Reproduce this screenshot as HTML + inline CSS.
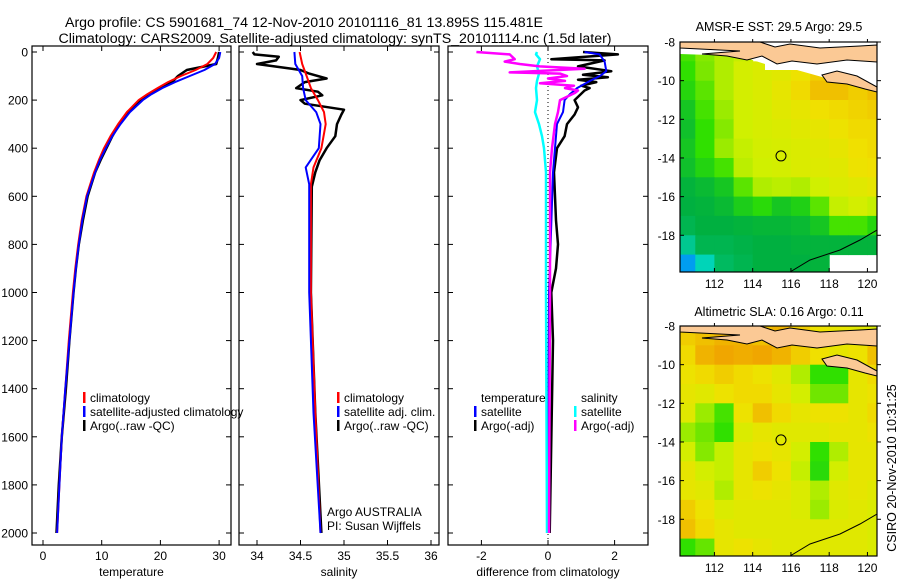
<!DOCTYPE html>
<html><head><meta charset="utf-8"><style>
body{margin:0;background:#fff;}
svg{display:block;font-family:"Liberation Sans",sans-serif;}
text{fill:#000;}
</style></head><body>
<svg id="fig" width="900" height="580" viewBox="0 0 900 580" xmlns="http://www.w3.org/2000/svg">
<text x="304" y="27" font-size="14.2" text-anchor="middle">Argo profile: CS 5901681_74 12-Nov-2010 20101116_81 13.895S 115.481E</text>
<text x="335" y="43" font-size="14.2" text-anchor="middle">Climatology: CARS2009. Satellite-adjusted climatology: synTS_20101114.nc (1.5d later)</text>
<text x="779" y="31" font-size="12.5" text-anchor="middle">AMSR-E SST: 29.5 Argo: 29.5</text>
<text x="779" y="316" font-size="12.5" text-anchor="middle">Altimetric SLA: 0.16 Argo: 0.11</text>
<text x="0" y="0" font-size="12.5" text-anchor="middle" transform="translate(896,468) rotate(-90)">CSIRO 20-Nov-2010 10:31:25</text>
</svg>
<script>
// ---------- profile data ----------
const tDepth = [0,25,50,75,100,125,150,175,200,250,300,350,400,450,500,600,700,800,900,1000,1200,1400,1600,1800,2000];
const tClim  = [29.5,29,28,26,23.5,21.3,19.5,17.8,16.3,14.3,12.8,11.5,10.4,9.5,8.7,7.4,6.6,6.0,5.5,5.1,4.4,3.8,3.2,2.8,2.4];
const tSat   = [30.2,30,29.3,27.5,25,22.5,20.3,18.5,17,14.8,13.2,11.8,10.7,9.7,8.9,7.5,6.7,6.1,5.6,5.2,4.5,3.8,3.2,2.8,2.4];
const tArgo  = [30,29.8,29.5,24.5,23,22,20,18.2,16.6,14.6,13,11.8,10.8,9.8,8.9,7.6,6.8,6.1,5.6,5.2,4.5,3.9,3.2,2.7,2.3];

const sDepth = [0,50,100,150,200,250,300,400,480,550,1000,1500,2000];
const sClim  = [34.49,34.52,34.57,34.62,34.7,34.77,34.79,34.74,34.65,34.62,34.62,34.67,34.73];
const sSat   = [34.43,34.44,34.52,34.53,34.56,34.68,34.73,34.71,34.56,34.6,34.6,34.65,34.73];
const aDepth = [0,10,20,35,50,70,75,90,110,125,150,165,180,200,215,240,260,300,350,400,450,500,560,1000,1500,2000];
const sArgo  = [33.95,33.97,34.25,34.22,34.0,34.4,34.5,34.6,34.8,34.55,34.45,34.7,34.75,34.5,34.55,35.0,34.97,34.92,34.9,34.8,34.72,34.67,34.63,34.62,34.67,34.74];

const dDepthT = [0,10,30,35,60,80,95,105,115,125,140,150,160,200,230,260,300,350,400,500,700,800,900,1000,1200,2000];
const dTArgo  = [1.05,2.1,0.1,1.7,0.9,1.9,1.05,1.8,0.9,1.45,1.0,1.25,1.1,0.8,0.9,0.8,0.57,0.5,0.27,0.18,0.24,0.3,0.24,0.1,0.15,0.05];
const dDepthS = [0,10,40,80,100,120,150,175,200,250,300,400,500,1000,2000];
const dTSat   = [1.1,1.55,1.7,1.75,1.56,1.26,0.87,0.66,0.5,0.45,0.27,0.21,0.15,0.03,0.0];
const dDepthC = [0,10,30,60,90,120,150,200,250,300,350,400,500,1000,2000];
const dSSat   = [-0.33,-0.36,-0.24,-0.33,-0.27,-0.33,-0.36,-0.33,-0.39,-0.27,-0.18,-0.12,-0.06,-0.06,-0.03];
const dDepthM = [0,10,30,40,50,60,70,85,90,100,110,120,130,140,150,160,170,200,250,300,400,500,1000,2000];
const dSArgo  = [-2.15,-1.15,-1.0,-1.3,-0.85,-0.25,1.1,-1.15,0.36,0.57,0.0,0.51,-0.24,0.78,0.51,0.9,0.81,0.36,0.3,0.21,0.12,0.06,0.06,0.03];

const depthTicks = [0,200,400,600,800,1000,1200,1400,1600,1800,2000];
const tTicks = [0,10,20,30];
const sTicks = [34,34.5,35,35.5,36];
const dTicks = [-2,0,2];
const latTicks = [-8,-10,-12,-14,-16,-18];
const lonTicks = [112,114,116,118,120];

// ---------- map data (1-degree cells, lat -8..-20 rows, lon 110..121 cols) ----------
const mapLon0 = 110, mapLat0 = -8;
const sstGrid = [
[.62,.68,.72,.74,null,null,null,null,null,null,null],
[.6,.67,.72,.76,.78,.8,.84,.88,.9,null,null],
[.57,.64,.72,.76,.78,.82,.86,.9,.9,.88,.9],
[.52,.62,.7,.75,.77,.8,.82,.85,.86,.87,.88],
[.5,.6,.68,.75,.77,.78,.8,.82,.84,.86,.86],
[.52,.6,.7,.74,.76,.77,.78,.8,.82,.85,.86],
[.5,.56,.62,.73,.75,.76,.78,.79,.8,.84,.85],
[.46,.48,.52,.64,.72,.73,.72,.75,.78,.8,.82],
[.45,.46,.48,.54,.58,.52,.55,.64,.74,.76,.74],
[.43,.45,.45,.46,.47,.47,.48,.52,.62,.62,.57],
[.35,.43,.43,.44,.45,.45,.46,.46,.46,.46,.46],
[.12,.3,.41,.43,.45,.45,.45,.46,null,null,null]];
const slaGrid = [
[.88,.9,.92,.92,.9,.92,.88,.84,.82,.8,.78],
[.86,.92,.94,.93,.94,.92,.88,.85,.82,.84,.9],
[.84,.86,.88,.86,.84,.8,.72,.6,.6,.82,.86],
[.82,.8,.84,.86,.86,.82,.76,.66,.66,.82,.84],
[.8,.7,.62,.84,.9,.86,.82,.84,.84,.82,.86],
[.7,.66,.6,.78,.82,.8,.8,.8,.82,.82,.84],
[.76,.68,.74,.82,.84,.82,.76,.6,.72,.82,.82],
[.82,.76,.74,.82,.88,.84,.74,.58,.76,.82,.82],
[.82,.8,.72,.82,.84,.82,.78,.72,.8,.82,.8],
[.88,.84,.78,.8,.8,.8,.78,.7,.78,.8,.78],
[.9,.86,.82,.8,.8,.8,.8,.8,.8,.8,.78],
[.6,.65,.82,.84,.82,.8,.8,.8,.8,.8,.78]];
const argoLon = 115.481, argoLat = -13.895;

const NS = "http://www.w3.org/2000/svg";
const svg = document.getElementById('fig');
function mk(tag, attrs, parent){ const e=document.createElementNS(NS,tag); for(const k in attrs) e.setAttribute(k,attrs[k]); (parent||svg).appendChild(e); return e; }

const Y0 = 52, PXD = 0.2405;
const yD = d => Y0 + d*PXD;
const panels = [
  {x0:32,x1:231,xs:v=>43+v*5.87,ticks:tTicks,lab:'temperature',name:'temperature'},
  {x0:239,x1:439,xs:v=>257+(v-34)*87,ticks:sTicks,lab:'salinity',name:'salinity'},
  {x0:448,x1:648,xs:v=>548+v*33.3,ticks:dTicks,lab:'difference from climatology',name:'difference'}];
const TOP=46, BOT=545;

panels.forEach((p,i)=>{
  const g = mk('g',{});
  
  
  const cp = mk('clipPath',{id:'cp'+i},g); mk('rect',{x:p.x0,y:TOP,width:p.x1-p.x0,height:BOT-TOP},cp);
  p.g=g;
  const fr = mk('rect',{x:p.x0,y:TOP,width:p.x1-p.x0,height:BOT-TOP,fill:'none',stroke:'#000','stroke-width':1.2},g);
  
  
  depthTicks.forEach(d=>{
    mk('line',{x1:p.x0,x2:p.x0+5,y1:yD(d),y2:yD(d),stroke:'#000'},g);
    mk('line',{x1:p.x1,x2:p.x1-5,y1:yD(d),y2:yD(d),stroke:'#000'},g);
    if(i===0){ const t=mk('text',{x:p.x0-4,y:yD(d)+4.5,'font-size':12,'text-anchor':'end'},g); t.textContent=d;
        }
  });
  p.ticks.forEach(v=>{
    const x=p.xs(v);
    mk('line',{x1:x,x2:x,y1:BOT,y2:BOT-5,stroke:'#000'},g);
    mk('line',{x1:x,x2:x,y1:TOP,y2:TOP+5,stroke:'#000'},g);
    const t=mk('text',{x:x,y:BOT+15,'font-size':12,'text-anchor':'middle'},g); t.textContent=v;
     
  });
  const xl=mk('text',{x:(p.x0+p.x1)/2,y:576,'font-size':12,'text-anchor':'middle'},g); xl.textContent=p.lab;
   
});

function line(pi, depths, vals, color, w, name){
  const p=panels[pi];
  const pts=depths.map((d,k)=>p.xs(vals[k]).toFixed(1)+','+yD(d).toFixed(1)).join(' ');
  const e=mk('polyline',{points:pts,fill:'none',stroke:color,'stroke-width':w,'clip-path':'url(#cp'+pi+')','stroke-linejoin':'round'},p.g);
  
  
}
const zl = mk('line',{x1:panels[2].xs(0),x2:panels[2].xs(0),y1:TOP,y2:BOT,stroke:'#000','stroke-dasharray':'1,3'},panels[2].g);
 

line(0,tDepth,tArgo,'#000',2.5,'temperature-argo-line');
line(0,tDepth,tClim,'#f00',2,'temperature-climatology-line');
line(0,tDepth,tSat,'#00f',2,'temperature-satellite-line');
line(1,aDepth,sArgo,'#000',2.5,'salinity-argo-line');
line(1,sDepth,sClim,'#f00',2,'salinity-climatology-line');
line(1,sDepth,sSat,'#00f',2,'salinity-satellite-line');
line(2,dDepthT,dTArgo,'#000',2.5,'temp-diff-argo-line');
line(2,dDepthS,dTSat,'#00f',2,'temp-diff-satellite-line');
line(2,dDepthC,dSSat,'#0ff',2.5,'sal-diff-satellite-line');
line(2,dDepthM,dSArgo,'#f0f',2.5,'sal-diff-argo-line');

function legend(x,y,color,label,name){
  const g=mk('g',{});
  
  
  if(color) mk('rect',{x:x,y:y-10,width:2.5,height:11,fill:color},g);
  const t=mk('text',{x:x+7,y:y,'font-size':12},g); t.textContent=label;
}
legend(83,402,'#f00','climatology','legend-temp-climatology');
legend(83,416,'#00f','satellite-adjusted climatology','legend-temp-satellite');
legend(83,430,'#000','Argo(..raw -QC)','legend-temp-argo');
legend(337,402,'#f00','climatology','legend-sal-climatology');
legend(337,416,'#00f','satellite adj. clim.','legend-sal-satellite');
legend(337,430,'#000','Argo(..raw -QC)','legend-sal-argo');
legend(474,402,null,'temperature','legend-temp-header');
legend(474,416,'#00f','satellite','legend-diff-temp-satellite');
legend(474,430,'#000','Argo(-adj)','legend-diff-temp-argo');
legend(574,402,null,'salinity','legend-sal-header');
legend(574,416,'#0ff','satellite','legend-diff-sal-satellite');
legend(574,430,'#f0f','Argo(-adj)','legend-diff-sal-argo');
legend(320,516,null,'Argo AUSTRALIA','argo-australia-label');
legend(320,530,null,'PI: Susan Wijffels','pi-label');

// ---------- maps ----------
const stops=[[0,[0,96,255]],[.25,[0,224,224]],[.45,[0,176,64]],[.6,[48,224,0]],[.75,[208,240,0]],[.85,[240,224,0]],[.95,[240,160,0]],[1,[220,120,0]]];
function cmap(v){ for(let i=1;i<stops.length;i++){ if(v<=stops[i][0]){ const a=stops[i-1],b=stops[i],t=(v-a[0])/(b[0]-a[0]);
  return 'rgb('+a[1].map((c,k)=>Math.round(c+(b[1][k]-c)*t)).join(',')+')'; } } return 'rgb(220,120,0)'; }

function drawMap(idx, grid, top, name, whiteBand){
  const L=680,R=877,H=230, lonMin=110.2, lonMax=120.5, latBot=-19.9;
  const xs=lon=>L+(lon-lonMin)/(lonMax-lonMin)*(R-L);
  const ys=lat=>top+(mapLat0-lat)/(mapLat0-latBot)*H;
  const g=mk('g',{});
  
  
  const cp=mk('clipPath',{id:'mcp'+idx},g); mk('rect',{x:L,y:top,width:R-L,height:H},cp);
  const cg=mk('g',{'clip-path':'url(#mcp'+idx+')'},g);
  grid.forEach((row,r)=>row.forEach((v,c)=>{
    if(v===null) return;
    const x=xs(mapLon0+c), y=ys(mapLat0-r);
    const cell=mk('rect',{x:x.toFixed(1),y:y.toFixed(1),width:(xs(mapLon0+c+1)-x+0.5).toFixed(1),height:(ys(mapLat0-r-1)-y+0.5).toFixed(1),fill:cmap(v)},cg);
    
    
  }));
  if(whiteBand){
    const wb=mk('path',{d:`M${L},${top} L${R},${top} L${R},${top+45} L${R-30},${top+40} L${R-55},${top+35} L${R-80},${top+28} L${L+85},${top+28} L${L+85},${top+22} L${L+60},${top+14} L${L},${top+12} Z`,fill:'#fff'},cg);
     
  }
  const land = mk('g',{fill:'#fbc995',stroke:'#000','stroke-width':1},cg);
  
  
  mk('path',{d:`M${L},${top} L${L+80},${top} L${L+95},${top+5} L${L+110},${top+2} L${L+140},${top+6} L${L+180},${top+4} L${R},${top+3} L${R},${top+20} L${R-30},${top+18} L${R-60},${top+22} L${R-85},${top+19} L${R-100},${top+22} L${R-115},${top+14} L${R-130},${top+18} L${R-150},${top+14} L${R-175},${top+12} L${L+60},${top+9} L${L},${top+6} Z`},land);
  mk('path',{d:`M${R-55},${top+33} L${R-40},${top+29} L${R-20},${top+34} L${R},${top+45} L${R},${top+50} L${R-12},${top+47} L${R-30},${top+42} L${R-50},${top+40} Z`},land);
  mk('polyline',{points:`${L+110},${top+H} ${L+130},${top+H-12} ${L+160},${top+H-22} ${L+180},${top+H-32} ${R},${top+H-42}`,fill:'none',stroke:'#000','stroke-width':1},cg);
  const circ=mk('circle',{cx:xs(argoLon),cy:ys(argoLat),r:5,fill:'none',stroke:'#000','stroke-width':1},cg);
  
  
  mk('rect',{x:L,y:top,width:R-L,height:H,fill:'none',stroke:'#000','stroke-width':1.2},g);
  latTicks.forEach(v=>{ const y=ys(v);
    mk('line',{x1:L,x2:L+4,y1:y,y2:y,stroke:'#000'},g); mk('line',{x1:R,x2:R+4,y1:y,y2:y,stroke:'#000'},g);
    const t=mk('text',{x:L-5,y:y+4.5,'font-size':12,'text-anchor':'end'},g); t.textContent=v;
      });
  lonTicks.forEach(v=>{ const x=xs(v);
    mk('line',{x1:x,x2:x,y1:top+H,y2:top+H-4,stroke:'#000'},g); mk('line',{x1:x,x2:x,y1:top,y2:top-3,stroke:'#000'},g);
    const t=mk('text',{x:x,y:top+H+16,'font-size':12,'text-anchor':'middle'},g); t.textContent=v;
      });
}
drawMap(0,sstGrid,42,'sst-map',true);
drawMap(1,slaGrid,326,'sla-map',false);
</script>
</body></html>
